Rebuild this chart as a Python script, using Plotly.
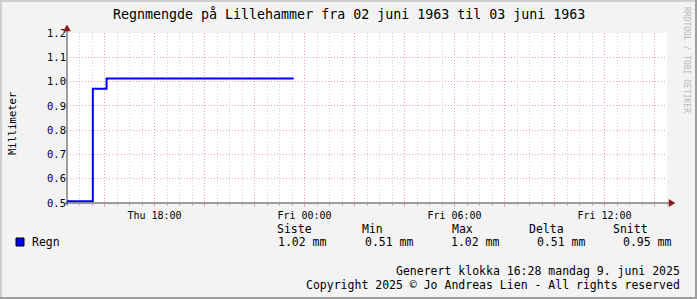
import plotly.graph_objects as go

# ---- data ----
times = ["1963-06-06 14:30", "1963-06-06 15:32", "1963-06-06 16:05", "1963-06-06 23:34"]
rain_mm = [0.507, 0.97, 1.013, 1.013]
series_name = "Regn"

x_tick_times = ["1963-06-06 16:00", "1963-06-06 18:00", "1963-06-06 20:00", "1963-06-06 22:00",
                "1963-06-07 00:00", "1963-06-07 02:00", "1963-06-07 04:00", "1963-06-07 06:00",
                "1963-06-07 08:00", "1963-06-07 10:00", "1963-06-07 12:00", "1963-06-07 14:00"]
x_tick_labels = ["", "Thu 18:00", "", "", "Fri 00:00", "", "", "Fri 06:00", "", "", "Fri 12:00", ""]
y_tick_vals = [0.5, 0.6, 0.7, 0.8, 0.9, 1.0, 1.1, 1.2]
y_tick_labels = ["0.5", "0.6", "0.7", "0.8", "0.9", "1.0", "1.1", "1.2"]

stat_headers = ["Siste", "Min", "Max", "Delta", "Snitt"]
stat_values = ["1.02 mm", "0.51 mm", "1.02 mm", "0.51 mm", "0.95 mm"]

title = "Regnmengde på Lillehammer fra 02 juni 1963 til 03 juni 1963"
y_title = "Millimeter"
side_text = "RRDTOOL / TOBI OETIKER"
footer1 = "Generert klokka 16:28 mandag 9. juni 2025"
footer2 = "Copyright 2025 © Jo Andreas Lien - All rights reserved"

# ---- layout geometry (pixels) ----
W, H = 697, 299
L, R, T, B = 67, 667, 33, 203
MONO = "DejaVu Sans Mono"

def px(x):
    return (x - L) / (R - L)

def py(y):
    return (B - y) / (B - T)

fig = go.Figure()
fig.add_trace(go.Scatter(x=times, y=rain_mm, mode="lines", line_shape="hv",
                         line=dict(color="#0000ff", width=2), name=series_name,
                         showlegend=False, hoverinfo="skip"))

shapes = []
# outer frame (3D shading)
shapes.append(dict(type="line", xref="paper", yref="paper", x0=px(0), x1=px(W), y0=py(1), y1=py(1),
                   line=dict(color="#cfcfcf", width=2), layer="above"))
shapes.append(dict(type="line", xref="paper", yref="paper", x0=px(1), x1=px(1), y0=py(0), y1=py(H),
                   line=dict(color="#cfcfcf", width=2), layer="above"))
shapes.append(dict(type="line", xref="paper", yref="paper", x0=px(0), x1=px(W), y0=py(H - 1), y1=py(H - 1),
                   line=dict(color="#9e9e9e", width=2), layer="above"))
shapes.append(dict(type="line", xref="paper", yref="paper", x0=px(W - 1), x1=px(W - 1), y0=py(0), y1=py(H),
                   line=dict(color="#9e9e9e", width=2), layer="above"))
# axes
shapes.append(dict(type="line", xref="paper", yref="paper", x0=px(L - 2), x1=px(671), y0=py(B), y1=py(B),
                   line=dict(color="#404040", width=1), layer="above"))
shapes.append(dict(type="line", xref="paper", yref="paper", x0=px(L), x1=px(L), y0=py(B + 2), y1=py(28),
                   line=dict(color="#404040", width=1), layer="above"))
# arrows
shapes.append(dict(type="path", xref="paper", yref="paper",
                   path=f"M {px(669)} {py(199.5)} L {px(675)} {py(B)} L {px(669)} {py(206.5)} Z",
                   fillcolor="#8b1a1a", line=dict(color="#8b1a1a", width=0.5), layer="above"))
shapes.append(dict(type="path", xref="paper", yref="paper",
                   path=f"M {px(63.5)} {py(31)} L {px(L)} {py(25)} L {px(70.5)} {py(31)} Z",
                   fillcolor="#8b1a1a", line=dict(color="#8b1a1a", width=0.5), layer="above"))
# legend swatch
shapes.append(dict(type="rect", xref="paper", yref="paper", x0=px(16), x1=px(24), y0=py(238), y1=py(246),
                   fillcolor="#0000ff", line=dict(color="#000000", width=1), layer="above"))

ann = []
def add_text(x, y, text, size, anchor="left", angle=0, color="#000"):
    ann.append(dict(xref="paper", yref="paper", x=px(x), y=py(y), text=text, showarrow=False,
                    xanchor=anchor, yanchor="middle", textangle=angle,
                    font=dict(family=MONO, size=size, color=color)))

add_text(348.5, 14, title, 13.3, "center")
add_text(12, 124, y_title, 10.5, "center", -90)
add_text(687, 60, side_text, 8, "center", 90, "#b8b8b8")
add_text(30, 242, series_name, 11.5)
hdr_x = [275, 360, 450, 527, 611]
val_x = [276, 363, 449, 535, 621]
for h, hx in zip(stat_headers, hdr_x):
    add_text(hx, 229, h, 11.5)
for v, vx in zip(stat_values, val_x):
    add_text(vx, 242, v, 11.5)
add_text(682, 271, footer1, 11.5, "right")
add_text(682, 285, footer2, 11.5, "right")

DOT = "1px,2px"
fig.update_layout(
    width=W, height=H,
    margin=dict(l=L, r=W - R, t=T, b=H - B, pad=0),
    paper_bgcolor="#f3f3f3", plot_bgcolor="#ffffff",
    shapes=shapes, annotations=ann, showlegend=False,
    xaxis=dict(type="date", range=["1963-06-06 14:30", "1963-06-07 14:30"],
               tickvals=x_tick_times, ticktext=x_tick_labels,
               showgrid=True, gridcolor="#f0a0a0", griddash=DOT, gridwidth=1,
               ticks="outside", ticklen=3, tickcolor="#f0a0a0",
               tickfont=dict(family=MONO, size=10, color="#000"),
               minor=dict(dtick=30 * 60 * 1000, showgrid=True, gridcolor="#d0d0d0", griddash=DOT,
                          ticks="outside", ticklen=2, tickcolor="#c0c0c0"),
               showline=False, zeroline=False, fixedrange=True),
    yaxis=dict(range=[0.5, 1.2], tickvals=y_tick_vals, ticktext=y_tick_labels,
               showgrid=True, gridcolor="#f0a0a0", griddash=DOT, gridwidth=1,
               ticks="", ticklen=0,
               tickfont=dict(family=MONO, size=10.5, color="#000"),
               showline=False, zeroline=False, fixedrange=True),
)

fig.write_html("out.html")
